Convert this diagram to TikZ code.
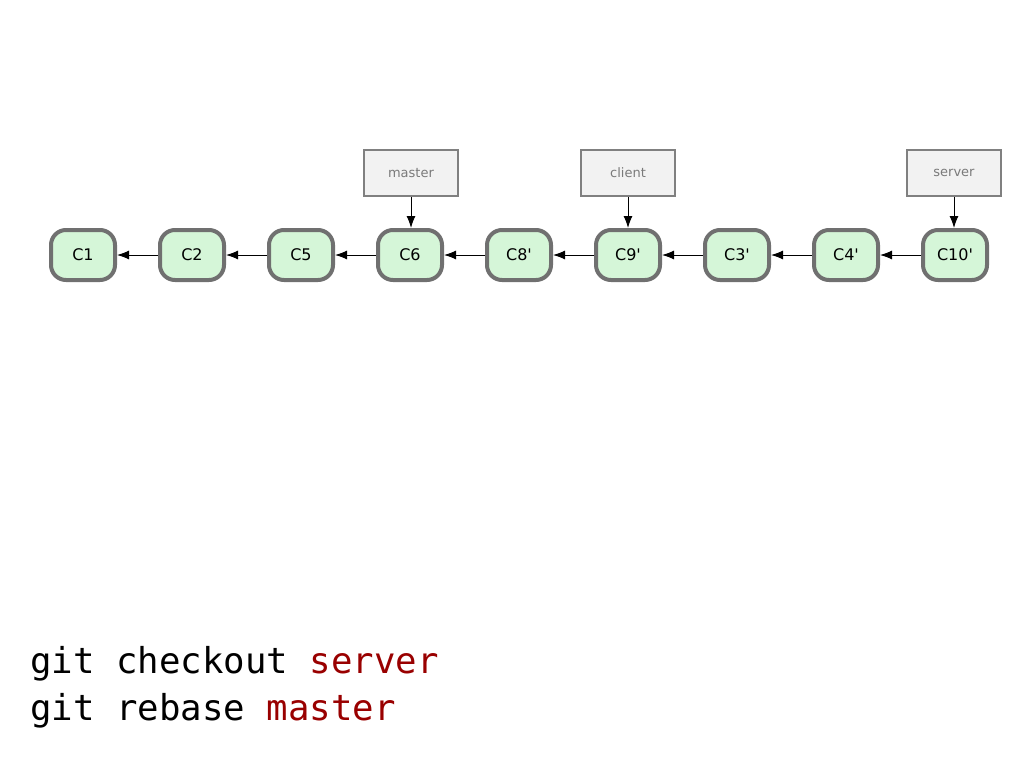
\documentclass[tikz,border=0pt]{standalone}
\usepackage{fontspec}
\usepackage{xcolor}
\usetikzlibrary{arrows.meta}
\newfontfamily\commitfont{DejaVu Sans}
\newfontfamily\cmdfont{DejaVu Sans Mono}
\definecolor{commitfill}{HTML}{D5F6D8}
\definecolor{commitline}{HTML}{707070}
\definecolor{reffill}{HTML}{F2F2F2}
\definecolor{refline}{HTML}{808080}
\definecolor{reftext}{HTML}{7A7A7A}
\definecolor{argred}{HTML}{990000}
\tikzset{
    commit/.style={draw=commitline, fill=commitfill, line width=4pt, rounded corners=15pt,
        minimum width=64pt, minimum height=50pt, inner sep=0pt, font=\commitfont\fontsize{16}{19}\selectfont},
    ref/.style={draw=refline, fill=reffill, line width=2pt, minimum width=94pt, minimum height=46pt,
        inner sep=0pt, text=reftext, font=\commitfont\fontsize{13}{15}\selectfont},
    parent/.style={-{Latex[length=12pt,width=9pt]}, line width=1pt, black}
}
\begin{document}
\begin{tikzpicture}[x=1pt, y=-1pt]
                                \useasboundingbox (0, 0) rectangle (1024, 768);
                                \node[commit] (c1) at (83, 255) {C1};
                                \node[commit] (c2) at (192, 255) {C2};
                                \node[commit] (c5) at (301, 255) {C5};
                                \node[commit] (c6) at (410, 255) {C6};
                                \node[commit] (c8) at (519, 255) {C8'};
                                \node[commit] (c9) at (628, 255) {C9'};
                                \node[commit] (c3) at (737, 255) {C3'};
                                \node[commit] (c4) at (846, 255) {C4'};
                                \node[commit] (c10) at (955, 255) {C10'};
                                \node[ref] (master) at (411, 173) {master};
                                \node[ref] (client) at (628, 173) {client};
                                \node[ref] (server) at (954, 173) {server};
                                \draw[parent]
                                (c2) -- (c1);
                                \draw[parent] (c5) -- (c2);
                                \draw[parent] (c6) -- (c5);
                                \draw[parent] (c8) -- (c6);
                                \draw[parent] (c9) -- (c8);
                                \draw[parent] (c3) -- (c9);
                                \draw[parent] (c4) -- (c3);
                                \draw[parent] (c10) -- (c4);
                                \draw[parent] (master) -- (master |- c6.north);
                                \draw[parent] (client) -- (client |- c9.north);
                                \draw[parent] (server) -- (server |- c10.north);
                                \node[anchor=base west, inner sep=0pt, font=\cmdfont\fontsize{35.7}{40}\selectfont] (checkout) at (30, 673) {git checkout \textcolor{argred}{server}};
                                \node[anchor=base west, inner sep=0pt, font=\cmdfont\fontsize{35.7}{40}\selectfont] (rebase) at (30, 720) {git rebase \textcolor{argred}{master}};
                            \end{tikzpicture}
\end{document}
